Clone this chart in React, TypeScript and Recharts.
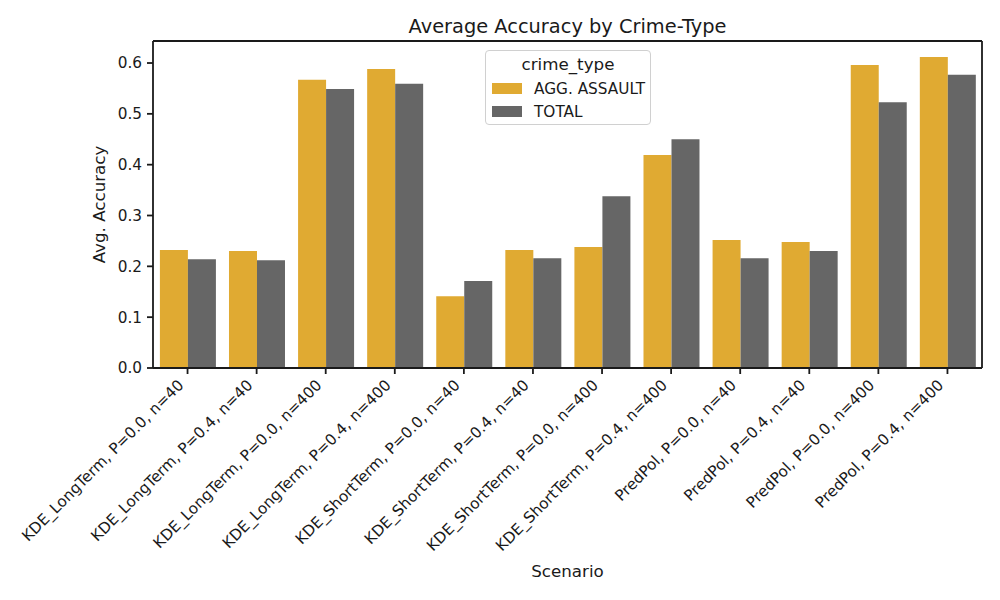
import { BarChart, Bar, XAxis, YAxis, Legend } from "recharts";

const scenarios = [
  "KDE_LongTerm, P=0.0, n=40",
  "KDE_LongTerm, P=0.4, n=40",
  "KDE_LongTerm, P=0.0, n=400",
  "KDE_LongTerm, P=0.4, n=400",
  "KDE_ShortTerm, P=0.0, n=40",
  "KDE_ShortTerm, P=0.4, n=40",
  "KDE_ShortTerm, P=0.0, n=400",
  "KDE_ShortTerm, P=0.4, n=400",
  "PredPol, P=0.0, n=40",
  "PredPol, P=0.4, n=40",
  "PredPol, P=0.0, n=400",
  "PredPol, P=0.4, n=400",
];

const aggAssault = [0.232, 0.23, 0.567, 0.588, 0.141, 0.232, 0.238, 0.419, 0.252, 0.248, 0.596, 0.612];
const total = [0.214, 0.212, 0.549, 0.559, 0.171, 0.216, 0.338, 0.45, 0.216, 0.23, 0.523, 0.577];

const yTicks = [0, 0.1, 0.2, 0.3, 0.4, 0.5, 0.6];

const data = scenarios.map((s, i) => ({
  scenario: s,
  agg: aggAssault[i],
  total: total[i],
}));

const FONT = "DejaVu Sans, sans-serif";
const INK = "#1a1a1a";
const ORANGE = "#e0aa32";
const GREY = "#666666";
const LW = 1.8;

// étiquettes inclinées à 45°, alignées à droite sur le tick
function SlantTick(props: any) {
  const { x, y, payload } = props;
  return (
    <g transform={`translate(${x - 3},${y + 10}) rotate(-45)`}>
      <text x={0} y={0} textAnchor="end" fontSize={15.3} fontFamily={FONT} fill={INK}>
        {payload.value}
      </text>
    </g>
  );
}

function LegendBox(props: any) {
  const items = props.payload || [];
  return (
    <div
      style={{
        width: 164,
        height: 73,
        border: "1px solid #d0d0d0",
        borderRadius: 4,
        background: "rgba(255,255,255,0.85)",
        fontFamily: FONT,
        color: INK,
        boxSizing: "content-box",
      }}
    >
      <div style={{ textAlign: "center", fontSize: 16.7, lineHeight: "20px", marginTop: 3 }}>crime_type</div>
      <div style={{ marginTop: 3 }}>
        {items.map((it: any) => (
          <div key={it.value} style={{ display: "flex", alignItems: "center", height: 23, marginLeft: 6 }}>
            <span style={{ display: "inline-block", width: 30, height: 11, background: it.color, marginRight: 12 }} />
            <span style={{ fontSize: 15.3 }}>{it.value}</span>
          </div>
        ))}
      </div>
    </div>
  );
}

export default function App() {
  return (
    <div style={{ position: "relative", width: 1000, height: 600, background: "#fff" }}>
      <style>{"body{margin:0}"}</style>
      <div
        style={{
          position: "absolute",
          left: 153,
          width: 829,
          top: 15,
          textAlign: "center",
          fontFamily: FONT,
          fontSize: 19.4,
          color: INK,
        }}
      >
        Average Accuracy by Crime-Type
      </div>
      <BarChart
        width={1000}
        height={600}
        data={data}
        margin={{ top: 40, right: 17, left: 0, bottom: 0 }}
        barCategoryGap="10%"
        barGap={0}
      >
        <XAxis
          dataKey="scenario"
          height={232}
          interval={0}
          tick={<SlantTick />}
          tickSize={6}
          tickMargin={2}
          axisLine={{ stroke: INK, strokeWidth: LW }}
          tickLine={{ stroke: INK, strokeWidth: LW }}
        />
        <XAxis
          xAxisId="top"
          dataKey="scenario"
          orientation="top"
          height={1}
          tick={false}
          tickLine={false}
          axisLine={{ stroke: INK, strokeWidth: LW }}
        />
        <YAxis
          width={153}
          domain={[0, 0.6433]}
          ticks={yTicks}
          allowDataOverflow
          tickFormatter={(v) => Number(v).toFixed(1)}
          tick={{ fontSize: 15.3, fontFamily: FONT, fill: INK }}
          tickSize={6}
          tickMargin={5}
          axisLine={{ stroke: INK, strokeWidth: LW }}
          tickLine={{ stroke: INK, strokeWidth: LW }}
          label={(p: any) => {
            const vb = p.viewBox;
            const cy = vb.y + vb.height / 2;
            return (
              <text
                x={105}
                y={cy}
                transform={`rotate(-90, 105, ${cy})`}
                textAnchor="middle"
                fontSize={16.7}
                fontFamily={FONT}
                fill={INK}
              >
                Avg. Accuracy
              </text>
            );
          }}
        />
        <YAxis
          yAxisId="right"
          orientation="right"
          width={1}
          domain={[0, 0.6433]}
          tick={false}
          tickLine={false}
          axisLine={{ stroke: INK, strokeWidth: LW }}
        />
        <Legend
          layout="vertical"
          align="center"
          verticalAlign="middle"
          content={<LegendBox />}
          wrapperStyle={{ position: "absolute", left: 485, top: 50, width: 166 }}
        />
        <Bar dataKey="agg" name="AGG. ASSAULT" fill={ORANGE} isAnimationActive={false} />
        <Bar dataKey="total" name="TOTAL" fill={GREY} isAnimationActive={false} />
      </BarChart>
      <div
        style={{
          position: "absolute",
          left: 153,
          width: 829,
          top: 561,
          textAlign: "center",
          fontFamily: FONT,
          fontSize: 16.7,
          color: INK,
        }}
      >
        Scenario
      </div>
    </div>
  );
}
